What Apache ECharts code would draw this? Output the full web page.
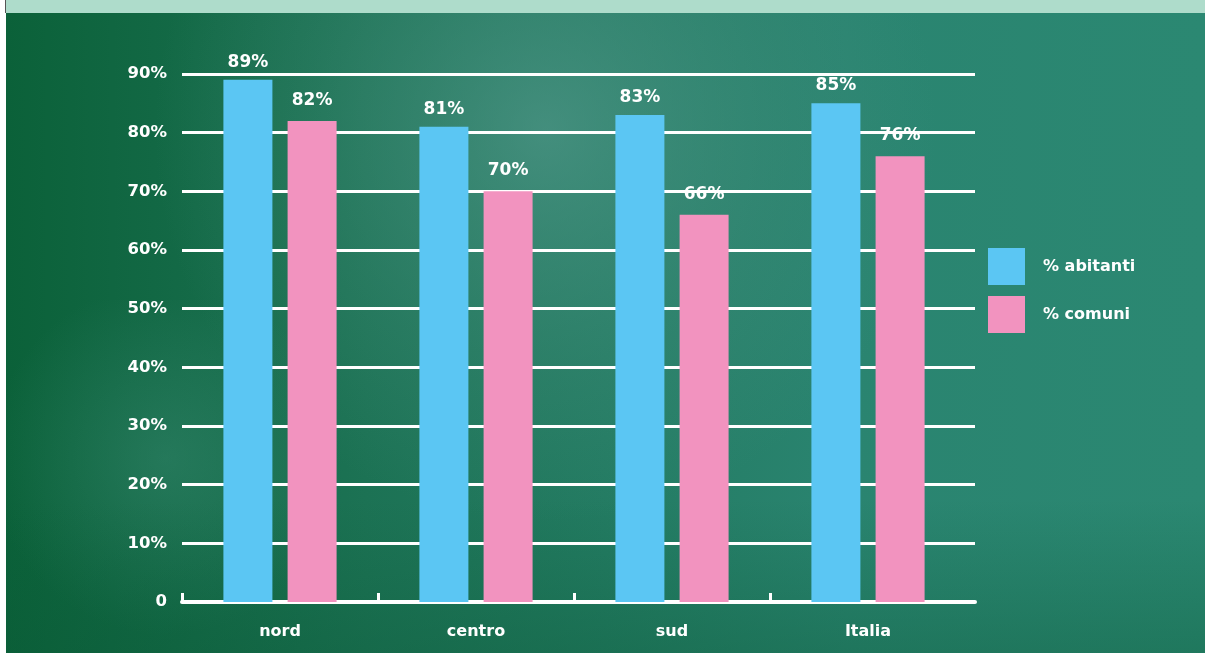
<!DOCTYPE html>
<html>
<head>
<meta charset="utf-8">
<title>abitanti e comuni</title>
<script src="https://cdn.jsdelivr.net/npm/echarts@6/dist/echarts.min.js"></script>
<style>
  html, body { margin: 0; padding: 0; background: #ffffff; }
  #chart { width: 1205px; height: 653px; }
</style>
</head>
<body>
<div id="chart"></div>
<script>
// Aree geografiche e percentuali di copertura
const categories = ['nord', 'centro', 'sud', 'Italia'];
const abitanti = [89, 81, 83, 85];
const comuni = [82, 70, 66, 76];
const seriesNames = ['% abitanti', '% comuni'];
const yTicks = [0, 10, 20, 30, 40, 50, 60, 70, 80, 90];

const FONT = '"DejaVu Sans", Verdana, sans-serif';
const BLUE = '#5bc6f3';
const PINK = '#f293bf';
const CHALK = '#ffffff';

const chart = echarts.init(document.getElementById('chart'), null, { renderer: 'canvas' });

const valueLabel = {
  show: true, position: 'top',
  formatter: p => p.value + '%',
  color: CHALK, fontFamily: FONT, fontWeight: 'bold', fontSize: 17
};

const option = {
  animation: false,
  textStyle: { fontFamily: FONT },
  graphic: [
    // chalkboard
    {
      type: 'rect', z: -10, silent: true,
      shape: { x: 6, y: 0, width: 1199, height: 653 },
      style: {
        fill: new echarts.graphic.LinearGradient(0, 0, 1, 0, [
          { offset: 0, color: '#0b6139' },
          { offset: 0.3, color: '#1c7254' },
          { offset: 0.7, color: '#2a8470' },
          { offset: 1, color: '#2b8872' }
        ])
      }
    },
    // lighter haze across the upper middle
    {
      type: 'rect', z: -9, silent: true,
      shape: { x: 6, y: 0, width: 1199, height: 653 },
      style: {
        fill: new echarts.graphic.RadialGradient(0.45, 0.2, 0.6, [
          { offset: 0, color: 'rgba(95,160,150,0.55)' },
          { offset: 0.6, color: 'rgba(80,150,135,0.22)' },
          { offset: 1, color: 'rgba(80,150,135,0)' }
        ])
      }
    },
    // soft glow lower left
    {
      type: 'rect', z: -9, silent: true,
      shape: { x: 6, y: 300, width: 400, height: 353 },
      style: {
        fill: new echarts.graphic.RadialGradient(0.4, 0.45, 0.5, [
          { offset: 0, color: 'rgba(70,150,130,0.35)' },
          { offset: 1, color: 'rgba(70,150,130,0)' }
        ])
      }
    },
    // darker bottom band
    {
      type: 'rect', z: -9, silent: true,
      shape: { x: 6, y: 500, width: 1199, height: 153 },
      style: {
        fill: new echarts.graphic.LinearGradient(0, 0, 0, 1, [
          { offset: 0, color: 'rgba(10,90,55,0)' },
          { offset: 1, color: 'rgba(10,90,55,0.35)' }
        ])
      }
    },
    // header strip
    {
      type: 'rect', z: -8, silent: true,
      shape: { x: 6, y: 0, width: 1199, height: 13 },
      style: { fill: '#aedccb' }
    },
    {
      type: 'rect', z: -8, silent: true,
      shape: { x: 5, y: 0, width: 1, height: 13 },
      style: { fill: '#555555' }
    }
  ],
  legend: {
    orient: 'vertical',
    left: 988,
    top: 248,
    padding: 0,
    itemWidth: 37,
    itemHeight: 37,
    itemGap: 11,
    icon: 'rect',
    data: seriesNames,
    textStyle: {
      color: CHALK, fontFamily: FONT, fontWeight: 'bold', fontSize: 16,
      padding: [0, 0, 0, 13]
    }
  },
  grid: [
    // chalk rules
    { left: 182, top: 74, width: 793, height: 528 },
    // bars
    { left: 182, top: 74, width: 784, height: 528 }
  ],
  xAxis: [
    {
      type: 'value', gridIndex: 0, min: 0, max: 793 / 196,
      splitLine: { show: false },
      axisLabel: { show: false },
      axisLine: { show: true, lineStyle: { color: CHALK, width: 4 } },
      axisTick: {
        show: true, inside: true, length: 9,
        customValues: [0, 1, 2, 3],
        lineStyle: { color: CHALK, width: 3 }
      }
    },
    {
      type: 'category', gridIndex: 1, data: categories,
      axisLine: { show: false },
      axisTick: { show: false },
      axisLabel: {
        color: CHALK, fontFamily: FONT, fontWeight: 'bold', fontSize: 16,
        margin: 22
      }
    }
  ],
  yAxis: [
    {
      type: 'value', gridIndex: 0, min: 0, max: 90, interval: 10,
      axisLine: { show: false },
      axisTick: { show: false },
      axisLabel: {
        color: CHALK, fontFamily: FONT, fontWeight: 'bold', fontSize: 16.5,
        margin: 15,
        formatter: v => (yTicks.includes(v) ? (v === 0 ? '0' : v + '%') : '')
      },
      splitLine: { show: true, lineStyle: { color: CHALK, width: 3 } }
    },
    {
      type: 'value', gridIndex: 1, min: 0, max: 90, interval: 10,
      axisLine: { show: false },
      axisTick: { show: false },
      axisLabel: { show: false },
      splitLine: { show: false }
    }
  ],
  series: [
    {
      name: seriesNames[0], type: 'bar',
      xAxisIndex: 1, yAxisIndex: 1,
      data: abitanti, barWidth: 49, barGap: '31%',
      itemStyle: { color: BLUE },
      label: Object.assign({ distance: 9 }, valueLabel),
      z: 3
    },
    {
      name: seriesNames[1], type: 'bar',
      xAxisIndex: 1, yAxisIndex: 1,
      data: comuni, barWidth: 49,
      itemStyle: { color: PINK },
      label: Object.assign({ distance: 12 }, valueLabel),
      z: 3
    }
  ]
};

chart.setOption(option);
</script>
</body>
</html>
